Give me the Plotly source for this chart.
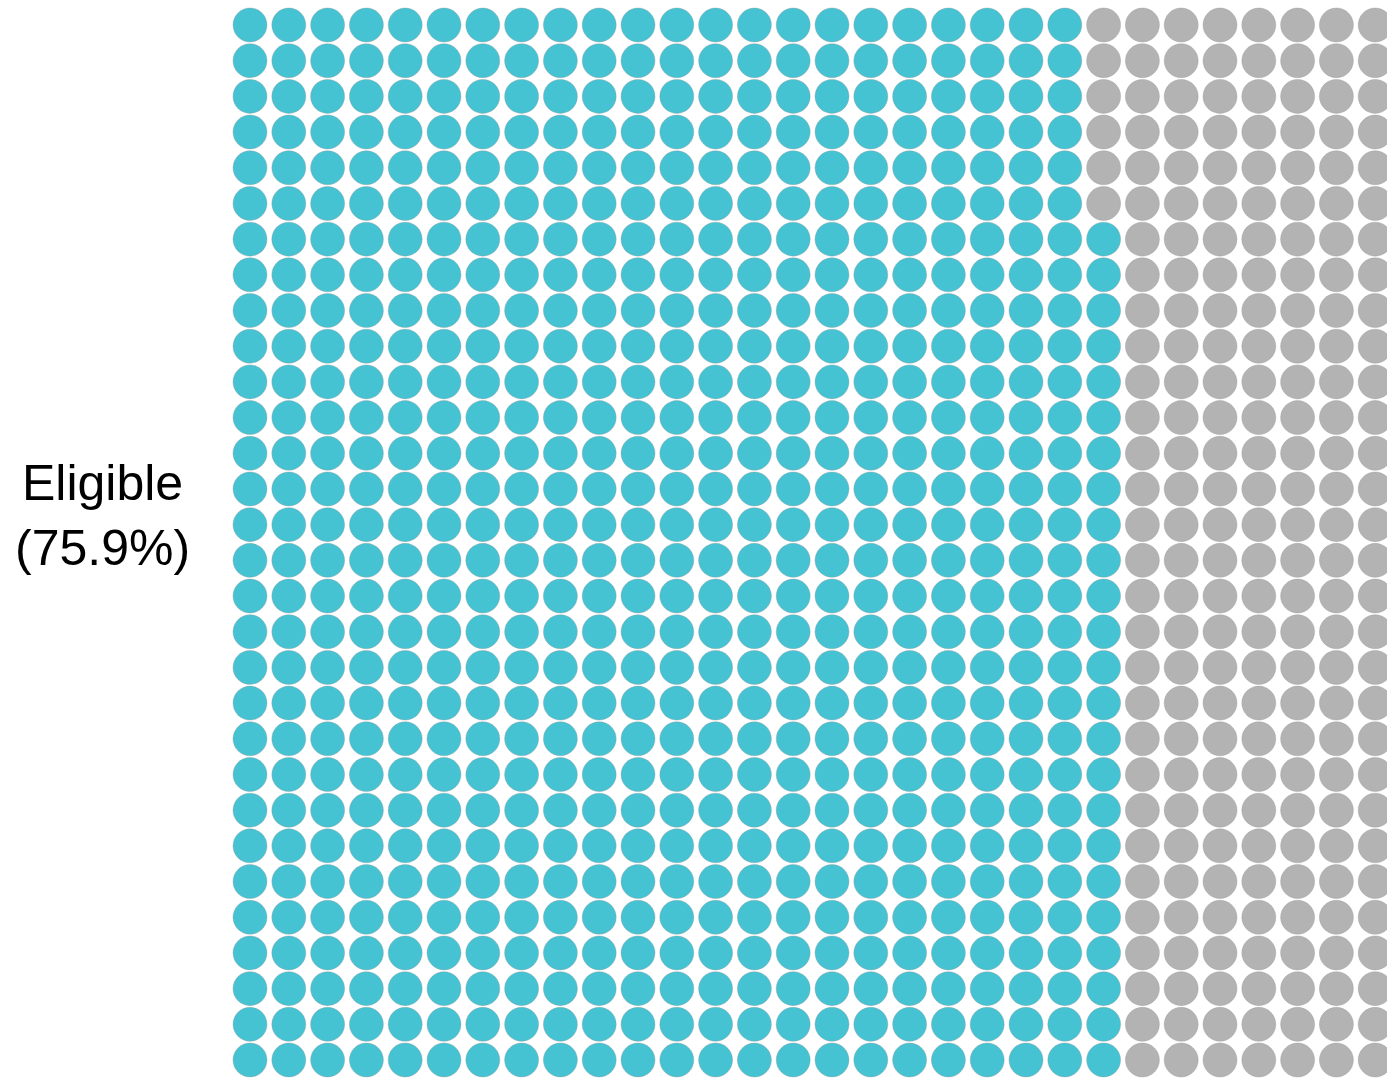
import math
import plotly.graph_objects as go

# Waffle grid: 30 columns x 30 rows, filled column by column from the bottom up
n_cols = 30
n_rows = 30
eligible_pct = 75.9
label_text = "Eligible<br>(" + f"{eligible_pct:.1f}" + "%)"

n_cells = n_cols * n_rows
n_eligible = math.ceil(eligible_pct / 100 * n_cells)

teal = "#45C3D3"
grey = "#B3B3B3"

xs, ys, colors = [], [], []
for k in range(n_cells):
    col = k // n_rows
    row = n_rows - 1 - (k % n_rows)   # row 0 is the top row
    xs.append(col)
    ys.append(row)
    colors.append(teal if k < n_eligible else grey)

W, H = 1387, 1081
# pixel geometry of the grid
x0_px, x_step = 250.0, 38.8
y0_px, y_step = 25.0, 35.69

x_lo = -x0_px / x_step
x_hi = x_lo + W / x_step
y_lo = -y0_px / y_step
y_hi = y_lo + H / y_step

fig = go.Figure()
fig.add_trace(go.Scatter(
    x=xs, y=ys, mode="markers",
    marker=dict(size=34, color=colors, line=dict(width=1, color="rgba(150,150,150,0.35)")),
    hoverinfo="skip", showlegend=False,
))

fig.add_annotation(
    x=102 / W, y=1 - 515 / H, xref="paper", yref="paper",
    xanchor="center", yanchor="middle",
    text=label_text, showarrow=False, align="center",
    font=dict(family="Liberation Sans, Arial, sans-serif", size=50, color="#000000"),
)

fig.update_layout(
    width=W, height=H,
    margin=dict(l=0, r=0, t=0, b=0),
    paper_bgcolor="white", plot_bgcolor="white",
    xaxis=dict(range=[x_lo, x_hi], visible=False, fixedrange=True),
    yaxis=dict(range=[y_hi, y_lo], visible=False, fixedrange=True),
)

fig.write_html("out.html")
